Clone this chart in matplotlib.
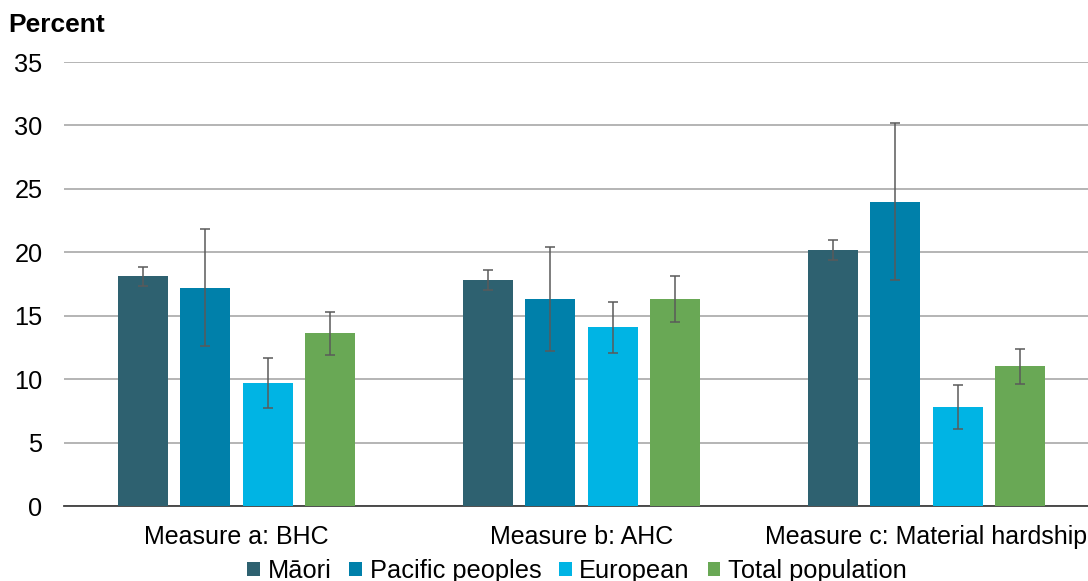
import numpy as np
import matplotlib
matplotlib.use("Agg")
import matplotlib.pyplot as plt
from matplotlib.patches import Patch

plt.rcParams['font.family'] = ['Liberation Sans', 'DejaVu Sans']

categories = ["Measure a: BHC", "Measure b: AHC", "Measure c: Material hardship"]
groups = ["Māori", "Pacific peoples", "European", "Total population"]
maori = [18.1, 17.8, 20.2]
pacific = [17.2, 16.3, 24.0]
european = [9.7, 14.1, 7.8]
total = [13.6, 16.3, 11.0]
maori_err = [0.75, 0.8, 0.8]
pacific_err = [4.6, 4.1, 6.2]
european_err = [2.0, 2.0, 1.7]
total_err = [1.7, 1.8, 1.4]

values = [maori, pacific, european, total]
errors = [maori_err, pacific_err, european_err, total_err]
colours = ["#2E6170", "#0080AA", "#00B4E4", "#69A855"]

fig = plt.figure(figsize=(10.88, 5.81), dpi=100)
ax = fig.add_axes([64/1088, 75/581, 1035/1088, 444/581])

x = np.arange(len(categories))
step = 0.181
width = 0.145
for i, (vals, errs, col) in enumerate(zip(values, errors, colours)):
    pos = x + (i - 1.5) * step
    ax.bar(pos, vals, width, color=col, zorder=3)
    ax.errorbar(pos, vals, yerr=errs, fmt='none', ecolor='#5A5A5A',
                elinewidth=1.1, capsize=3.6, capthick=1.1, zorder=4)

ax.set_xlim(-0.5, 2.5)
ax.set_ylim(0, 35)
ax.set_yticks(range(0, 36, 5))
ax.yaxis.grid(True, color='#A0A0A0', linewidth=1.1, zorder=0)
ax.set_axisbelow(True)
for s in ['top', 'right', 'left']:
    ax.spines[s].set_visible(False)
ax.spines['bottom'].set_color('#404040')
ax.spines['bottom'].set_linewidth(1.3)
ax.tick_params(axis='y', length=0, labelsize=18.3, colors='black', pad=15.5)
ax.tick_params(axis='x', length=0, labelsize=18, colors='black', pad=14)
ax.set_xticks(x)
ax.set_xticklabels(categories)

fig.text(8/1088, 1 - 25/581, "Percent", fontsize=19, fontweight='bold',
         va='center', ha='left')

handles = [Patch(facecolor=c, edgecolor='none') for c in colours]
fig.legend(handles, groups, loc='center', bbox_to_anchor=(577/1088, 1 - 571/581),
           ncol=4, frameon=False, fontsize=18.3, handlelength=0.5, handleheight=0.5,
           handletextpad=0.3, columnspacing=0.7, borderpad=0)

fig.savefig("out.png", dpi=100)
